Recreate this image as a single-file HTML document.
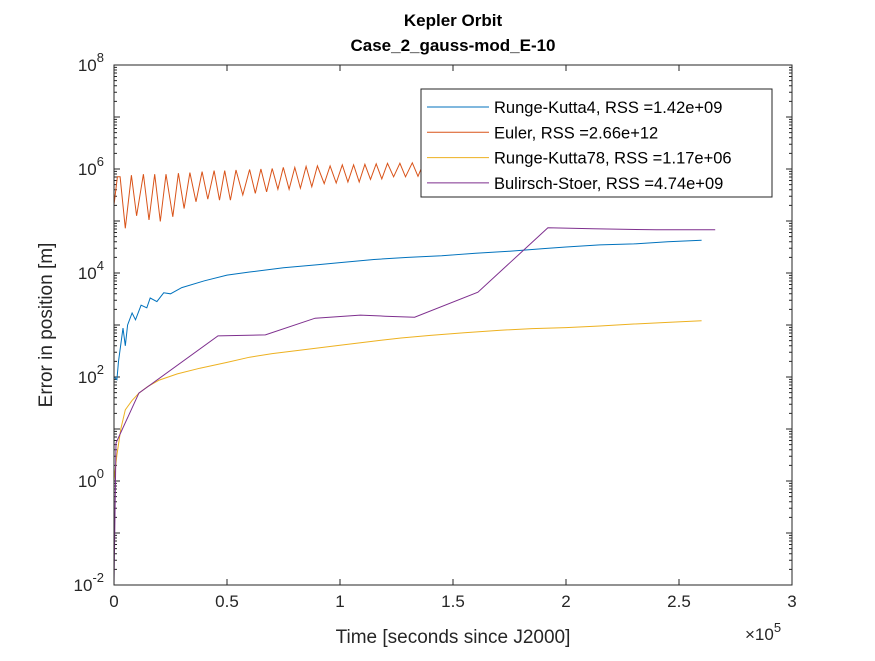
<!DOCTYPE html>
<html><head><meta charset="utf-8"><style>
body{margin:0;background:#fff;}
svg text{font-family:"Liberation Sans",Arial,sans-serif;fill:#262626;}
</style></head><body>
<svg id="chart" width="875" height="656" viewBox="0 0 875 656" xmlns="http://www.w3.org/2000/svg">
<rect width="875" height="656" fill="#fff"/>
<text x="453" y="26" text-anchor="middle" font-size="17" font-weight="bold" style="fill:#000">Kepler Orbit</text>
<text x="453" y="51" text-anchor="middle" font-size="17" font-weight="bold" style="fill:#000">Case_2_gauss-mod_E-10</text>
<rect x="114" y="65" width="678" height="520" fill="#fff"/>
<g id="grid"></g>
<g id="series"></g>
<rect x="114" y="65" width="678" height="520" fill="none" stroke="#262626" stroke-width="1"/>
<text x="453" y="643" text-anchor="middle" font-size="19">Time [seconds since J2000]</text>
<text x="745" y="640" font-size="17">×10<tspan dy="-8" font-size="13">5</tspan></text>
<text transform="translate(52,325) rotate(-90)" text-anchor="middle" font-size="19">Error in position [m]</text>
<g>
<rect x="421" y="89" width="351" height="108" fill="#fff" stroke="#262626" stroke-width="1"/>
<g id="legend-items"></g>
</g>
</svg>
<script>
const xTicks=[0,0.5,1,1.5,2,2.5,3];
const xTickLabels=["0","0.5","1","1.5","2","2.5","3"];
const yTicksExp=[-2,0,2,4,6,8];
const seriesNames=["Runge-Kutta4, RSS =1.42e+09","Euler, RSS =2.66e+12","Runge-Kutta78, RSS =1.17e+06","Bulirsch-Stoer, RSS =4.74e+09"];
const seriesColors=["#0072BD","#D95319","#EDB120","#7E2F8E"];
// times in units of 1e5 s, values as log10(error in m)
const rk4T=[0,0.013,0.02,0.04,0.05,0.06,0.08,0.095,0.12,0.145,0.16,0.19,0.22,0.25,0.3,0.4,0.5,0.6,0.75,0.9,1.0,1.15,1.3,1.45,1.6,1.75,1.9,2.0,2.15,2.3,2.45,2.6];
const rk4Log=[2.0,1.95,2.3,2.94,2.6,3.0,3.23,3.1,3.38,3.33,3.52,3.45,3.62,3.6,3.72,3.85,3.96,4.02,4.1,4.16,4.2,4.26,4.3,4.33,4.38,4.42,4.47,4.5,4.54,4.56,4.6,4.63];
const eulerT=[0,0.015,0.027,0.05,0.077,0.1,0.13,0.155,0.18,0.205,0.23,0.26,0.285,0.31,0.336,0.363,0.39,0.415,0.443,0.467,0.49,0.515,0.54,0.57,0.60,0.625,0.65,0.675,0.70,0.725,0.749,0.775,0.80,0.825,0.85,0.875,0.90,0.93,0.956,0.983,1.01,1.035,1.06,1.085,1.11,1.135,1.16,1.185,1.21,1.237,1.265,1.29,1.32,1.345,1.37];
const eulerLog=[5.31,5.85,5.85,4.86,5.88,5.10,5.90,5.02,5.90,4.99,5.90,5.08,5.92,5.24,5.93,5.37,5.95,5.42,5.97,5.40,5.97,5.40,5.98,5.50,5.99,5.53,6.00,5.56,6.01,5.61,6.03,5.61,6.03,5.63,6.05,5.66,6.06,5.72,6.06,5.73,6.08,5.75,6.08,5.75,6.09,5.80,6.10,5.81,6.11,5.85,6.11,5.85,6.12,5.86,6.12];
const rk78T=[0,0.013,0.03,0.05,0.08,0.11,0.15,0.2,0.28,0.38,0.5,0.6,0.7,0.83,1.0,1.15,1.27,1.4,1.55,1.71,1.85,2.0,2.15,2.3,2.45,2.6];
const rk78Log=[0,0.5,1.0,1.37,1.55,1.69,1.82,1.94,2.06,2.17,2.28,2.38,2.45,2.52,2.61,2.69,2.75,2.8,2.85,2.9,2.93,2.95,2.98,3.02,3.05,3.08];
const bsT=[0,0.009,0.11,0.46,0.67,0.89,1.09,1.20,1.33,1.61,1.92,2.12,2.40,2.66];
const bsLog=[-2,0.73,1.69,2.79,2.81,3.13,3.19,3.17,3.15,3.63,4.87,4.85,4.83,4.83];

const X0=114,X1=792,Y0=585,Y1=65;
const xS=v=>X0+(v/3)*(X1-X0);
const yS=l=>Y0-((l+2)/10)*(Y0-Y1);
const NS="http://www.w3.org/2000/svg";
const grid=document.getElementById('grid');
function mk(tag,attrs,parent){const e=document.createElementNS(NS,tag);for(const k in attrs)e.setAttribute(k,attrs[k]);parent.appendChild(e);return e;}

xTicks.forEach((t,i)=>{
  const x=xS(t);
  const tk=mk('path',{d:`M${x},${Y0}v-6M${x},${Y1}v6`,stroke:'#262626','stroke-width':1},grid);
  
  
  const lb=mk('text',{x:x,y:Y0+22,'text-anchor':'middle','font-size':17},grid);
  lb.textContent=xTickLabels[i];
  
  
});
for(let d=-2;d<8;d++){
  for(let m=2;m<10;m++){
    const y=yS(d+Math.log10(m));
    mk('path',{d:`M${X0},${y}h3M${X1},${y}h-3`,stroke:'#262626','stroke-width':1},grid);
  }
}
yTicksExp.forEach(e=>{
  const y=yS(e);
  const tk=mk('path',{d:`M${X0},${y}h6M${X1},${y}h-6`,stroke:'#262626','stroke-width':1},grid);
  
  
  const lb=mk('text',{x:X0-10,y:y+6,'text-anchor':'end','font-size':17},grid);
  lb.innerHTML='10<tspan dy="-9" font-size="13">'+e+'</tspan>';
  
  
});
for(let k=-1;k<4;k++){const y=yS(2*k+1);mk('path',{d:`M${X0},${y}h6M${X1},${y}h-6`,stroke:'#262626','stroke-width':1},grid);}

const ser=document.getElementById('series');
const allT=[rk4T,eulerT,rk78T,bsT],allL=[rk4Log,eulerLog,rk78Log,bsLog];
const serNames=['rk4-line','euler-line','rk78-line','bulirsch-stoer-line'];
allT.forEach((T,i)=>{
  const d=T.map((t,j)=>(j?'L':'M')+xS(t).toFixed(1)+','+yS(allL[i][j]).toFixed(1)).join('');
  const p=mk('path',{d:d,fill:'none',stroke:seriesColors[i],'stroke-width':1},ser);
  
  
});
const lg=document.getElementById('legend-items');
seriesNames.forEach((n,i)=>{
  const y=107+i*25.3;
  const l=mk('path',{d:`M427,${y}h62`,stroke:seriesColors[i],'stroke-width':1},lg);
  
  
  const t=mk('text',{x:494,y:y+6,'font-size':16.5,style:'fill:#000'},lg);
  t.textContent=n;
  
  
});
</script>
</body></html>
